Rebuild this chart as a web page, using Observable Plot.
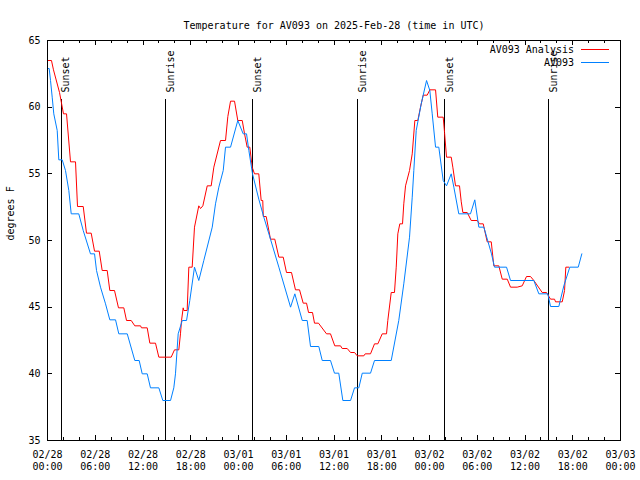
<!DOCTYPE html>
<html><head><meta charset="utf-8">
<script src="https://cdn.jsdelivr.net/npm/d3@7"></script>
<script src="https://cdn.jsdelivr.net/npm/@observablehq/plot@0.6"></script>
<style>body{margin:0;background:#fff} svg{display:block}</style>
</head><body><div id="chart"></div>
<script>
const title = "Temperature for AV093 on 2025-Feb-28 (time in UTC)";
const yLabel = "degrees F";
const seriesNames = ["AV093 Analysis", "AV093"];
const seriesColors = ["#ff0000", "#0080ff"];
const startUTC = Date.UTC(2025, 1, 28);
const xDomainHours = [0, 72];
const yDomain = [35, 65];
const yTicks = [35, 40, 45, 50, 55, 60, 65];
const majorTickHours = [0, 6, 12, 18, 24, 30, 36, 42, 48, 54, 60, 66, 72];
const minorTickHours = [0,2,4,6,8,10,12,14,16,18,20,22,24,26,28,30,32,34,36,38,40,42,44,46,48,50,52,54,56,58,60,62,64,66,68,70,72];

// hours since 2025-02-28 00:00 UTC
const analysisHours = [0,0.50,0.75,1.51,1.76,2.01,2.39,2.89,3.52,3.77,4.49,4.90,5.49,5.91,6.50,6.87,7.50,7.83,8.42,8.92,9.59,9.93,10.52,10.97,11.69,11.81,12.53,12.86,13.57,13.99,15.54,15.96,16.50,16.71,16.84,17.05,17.13,17.55,17.76,18.18,18.47,19.01,19.23,19.52,20.07,20.57,20.90,21.74,22.37,22.66,23.00,23.50,23.91,24.47,24.76,25.09,25.42,25.72,26.01,26.55,26.85,27.05,27.11,27.48,28.02,28.56,29.07,29.62,30.03,30.66,31.16,31.67,32.13,32.55,32.80,33.30,33.55,34.05,35.06,35.56,36.10,36.82,37.03,37.66,38.08,38.58,38.92,39.75,39.92,40.59,41.09,41.51,42.06,42.60,42.76,43.19,43.60,43.82,44.02,44.27,44.61,44.77,44.99,45.49,45.83,46.16,46.53,46.87,47.21,47.71,48.04,48.76,49.04,49.72,49.89,50.14,50.73,50.93,51.27,51.77,51.99,52.19,52.74,53.24,54.00,54.28,54.75,55.25,55.76,56.08,56.71,57.14,57.77,58.18,59.02,59.65,60.19,60.69,61.11,62.16,62.70,63.21,63.71,63.84,64.68,64.97,65.13,65.51];
const analysisTemps = [63.5,63.5,62.8,61.1,60.3,59.5,59.5,55.9,55.9,52.55,52.55,50.55,50.55,49.2,49.2,47.75,47.75,46.25,46.25,44.95,44.95,44.0,44.0,43.6,43.6,43.45,43.45,42.3,42.3,41.25,41.25,41.8,41.8,43.0,44.0,44.95,44.75,44.75,48.0,48.0,51.0,52.6,52.4,52.6,54.1,54.1,55.5,57.5,57.5,59.3,60.45,60.45,59.0,59.0,58.0,57.0,57.0,55.5,55.0,55.0,53.0,53.0,51.8,51.8,50.1,50.1,48.75,48.75,47.6,47.6,46.3,46.3,45.3,45.3,44.6,44.6,43.8,43.8,43.0,43.0,42.1,42.1,41.9,41.9,41.6,41.6,41.35,41.35,41.5,41.5,42.25,42.25,43.0,43.0,44.0,46.1,46.1,48.0,50.5,51.25,51.25,52.75,54.1,55.25,56.5,59.0,59.0,60.0,60.9,60.9,61.3,61.3,59.25,59.25,58.1,56.25,56.25,55.5,54.1,54.1,52.9,52.1,52.1,51.5,51.5,51.25,51.25,49.9,49.9,48.1,48.1,47.1,47.1,46.5,46.5,46.6,47.3,47.3,47.0,46.1,46.1,45.6,45.6,45.4,45.4,46.25,48.0,48.0];

const obsHours = [0,0.21,0.38,0.59,0.79,1.22,1.42,1.85,2.26,2.68,2.98,3.93,4.49,5.40,5.91,6.16,6.66,7.29,7.83,8.55,8.96,10.02,10.97,11.52,11.90,12.53,12.94,13.99,14.49,15.46,15.87,16.08,16.42,16.93,17.47,17.88,18.47,19.01,19.64,20.70,21.11,21.53,22.08,22.37,23.00,23.91,24.59,25.01,25.30,25.76,26.55,27.18,28.02,29.07,30.54,31.08,32.01,32.63,33.05,34.09,34.52,35.56,36.06,36.60,37.11,38.08,38.58,39.12,39.55,40.59,41.09,43.19,44.14,44.77,45.49,45.83,46.03,46.33,46.96,47.63,48.04,48.34,48.76,49.17,49.72,50.14,50.73,51.06,51.68,53.15,53.69,54.20,54.83,55.79,56.17,57.68,58.18,61.11,61.74,62.87,63.21,64.25,64.88,65.63,66.69,67.14];
const obsTemps = [62.9,62.9,62.0,60.75,59.5,58.25,56.05,56.05,55.25,53.75,52.0,52.0,50.75,49.0,49.0,47.75,46.5,45.25,44.05,44.05,43.0,43.0,41.0,41.0,40.0,40.0,38.95,38.95,38.0,38.0,38.95,40.0,43.0,44.0,44.0,45.5,48.0,47.0,48.5,51.0,52.75,54.0,55.25,57.0,57.0,59.0,58.0,58.0,56.75,55.0,53.1,51.75,50.1,48.0,45.0,46.0,44.0,44.0,42.05,42.05,41.0,41.0,40.05,40.05,38.0,38.0,38.95,38.95,40.05,40.05,41.0,41.0,44.0,46.75,50.25,53.25,55.25,58.25,60.25,62.0,61.25,59.5,57.0,57.0,54.5,54.1,55.0,54.0,52.0,52.0,53.05,51.0,51.0,49.0,48.0,48.0,47.0,47.0,46.0,46.0,45.05,45.05,46.6,48.0,48.0,49.0];

const sunEventHours = [1.72, 14.87, 25.80, 38.99, 49.93, 63.00];
const sunEventNames = ["Sunset", "Sunrise", "Sunset", "Sunrise", "Sunset", "Sunrise"];

const toDate = h => new Date(startUTC + h * 3600e3);
const analysis = analysisHours.map((h, i) => ({t: toDate(h), v: analysisTemps[i]}));
const obs = obsHours.map((h, i) => ({t: toDate(h), v: obsTemps[i]}));
const sunEvents = sunEventHours.map((h, i) => ({t: toDate(h), name: sunEventNames[i]}));
const majorDates = majorTickHours.map(toDate);
const minorDates = minorTickHours.map(toDate);
const fmt = d3.utcFormat("%m/%d\n%H:%M");
const FONT = "DejaVu Sans Mono";
const crisp = {shapeRendering: "crispEdges"};

const plot = Plot.plot({
  width: 640, height: 480,
  marginTop: 40, marginBottom: 40, marginLeft: 47, marginRight: 20,
  style: {fontFamily: FONT, fontSize: "10px", background: "#fff", color: "#000"},
  x: {type: "utc", domain: xDomainHours.map(toDate)},
  y: {domain: yDomain},
  marks: [
    Plot.ruleX(sunEvents, {x: "t", insetTop: 59, stroke: "#000", strokeWidth: 1, ...crisp}),
    Plot.text(sunEvents, {x: "t", text: "name", frameAnchor: "top", dy: 52, dx: 1, rotate: -90, textAnchor: "start", fill: "#000", fontSize: 10}),
    Plot.line(analysis, {x: "t", y: "v", stroke: seriesColors[0], strokeWidth: 1}),
    Plot.line(obs, {x: "t", y: "v", stroke: seriesColors[1], strokeWidth: 1}),
    // inward ticks (bottom/top, left/right)
    Plot.ruleX(minorDates, {insetTop: 397, stroke: "#000", ...crisp}),
    Plot.ruleX(minorDates, {insetBottom: 397, stroke: "#000", ...crisp}),
    Plot.ruleX(majorDates, {insetTop: 395, stroke: "#000", ...crisp}),
    Plot.ruleX(majorDates, {insetBottom: 395, stroke: "#000", ...crisp}),
    Plot.ruleY(yTicks, {insetRight: 568, stroke: "#000", ...crisp}),
    Plot.ruleY(yTicks, {insetLeft: 568, stroke: "#000", ...crisp}),
    Plot.axisX({anchor: "bottom", ticks: majorDates, tickSize: 0, tickPadding: 9, tickFormat: fmt, lineHeight: 1.2, label: null, fontSize: 10}),
    Plot.axisY({anchor: "left", ticks: yTicks, tickSize: 0, tickPadding: 7, label: null, fontSize: 10}),
    Plot.frame({stroke: "#000", ...crisp}),
    Plot.text([title], {text: d => d, frameAnchor: "top", dy: -19, fontSize: 10, fill: "#000"}),
    Plot.text([yLabel], {text: d => d, frameAnchor: "left", dx: -37, rotate: -90, fontSize: 10, fill: "#000"})
  ]
});

// legend: labels with line samples, top-right inside the frame
const svg = d3.select(plot);
const lg = svg.append("g").attr("font-family", FONT).attr("font-size", 10);
seriesNames.forEach((name, i) => {
  const y = 50 + i * 13;
  lg.append("text").attr("x", 574).attr("y", y).attr("dy", "0.32em").attr("text-anchor", "end").attr("fill", "#000").text(name);
  lg.append("line").attr("x1", 581).attr("x2", 609).attr("y1", y - 0.5).attr("y2", y - 0.5).attr("stroke", seriesColors[i]).attr("stroke-width", 1).attr("shape-rendering", "crispEdges");
});

document.getElementById("chart").appendChild(plot);
</script></body></html>
